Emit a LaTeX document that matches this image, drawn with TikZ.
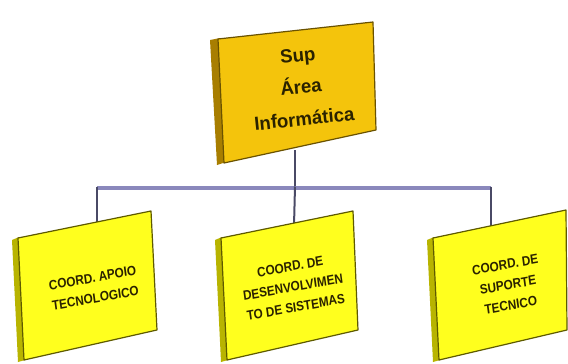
\documentclass[tikz,border=0pt]{standalone}
\usepackage{fontspec}
\setmainfont{Liberation Sans}
\begin{document}
\begin{tikzpicture}[x=1pt,y=-1pt,
  topface/.style={fill=gold, draw=edgebrown, line width=1.2pt, line join=round},
  topside/.style={fill=golddark},
  lowface/.style={fill=lowyellow, draw=edgeolive, line width=1.2pt, line join=round},
  lowside/.style={fill=lowdark},
  toptext/.style={font=\bfseries\fontsize{19}{32}\selectfont, text=txtdark, inner sep=0pt, xscale=0.98, align=center},
  lowtext/.style={font=\bfseries\fontsize{13.5}{20.5}\selectfont, text=txtdark, inner sep=0pt, xscale=0.87, align=center},
  bus/.style={draw=busblue, line width=3.5pt},
  drop/.style={draw=dropgrey, line width=2pt}]
\definecolor{gold}{HTML}{F4C40C}
\definecolor{golddark}{HTML}{A87E00}
\definecolor{edgebrown}{HTML}{6A5200}
\definecolor{lowyellow}{HTML}{FFFF1E}
\definecolor{lowdark}{HTML}{B8B400}
\definecolor{edgeolive}{HTML}{5E5A00}
\definecolor{txtdark}{HTML}{2A2200}
\definecolor{busblue}{HTML}{8A88BC}
\definecolor{dropgrey}{HTML}{4A4A66}
\useasboundingbox (0,0) rectangle (568,364);
\fill[white] (0,0) rectangle (568,364);

% connectors (drawn first, boxes cover ends)
\coordinate (topbot) at (295,150);
\coordinate (busM) at (295,188);
\coordinate (busL) at (97,188);
\coordinate (busR) at (491,188);
\coordinate (lTop) at (97,226);
\coordinate (mTop) at (294,226);
\coordinate (rTop) at (491,228);
\draw[drop] (topbot) -- (busM);
\draw[bus] (busL) -- (busR);
\draw[drop] ([yshift=1.5pt]busL) -- (lTop);
\draw[drop] ([yshift=1.5pt]busM) -- (mTop);
\draw[drop] ([yshift=1.5pt]busR) -- (rTop);

% top box
\fill[topside] (210,40) -- (220,38) -- (226,162) -- (217,165) -- cycle;
\path[topface] (218,39) -- (373,22) -- (376,130) -- (224,163) -- cycle;
\node[toptext, rotate=6] (top) at (301,87) {Sup\\Área\\Informática};

% left box
\fill[lowside] (12,240) -- (19,237) -- (25,360) -- (18,362) -- cycle;
\path[lowface] (18,238) -- (151,211) -- (157,330) -- (24,360) -- cycle;
\node[lowtext, rotate=9] (left) at (94,288) {COORD. APOIO\\TECNOLOGICO};

% middle box
\fill[lowside] (215,240) -- (222,237) -- (228,360) -- (221,362) -- cycle;
\path[lowface] (221,238) -- (353,211) -- (358,330) -- (227,360) -- cycle;
\node[lowtext, rotate=9] (mid) at (293,287) {COORD. DE\\DESENVOLVIMEN\\TO DE SISTEMAS};

% right box
\fill[lowside] (427,240) -- (434,237) -- (440,360) -- (433,362) -- cycle;
\path[lowface] (433,238) -- (566,210) -- (567,330) -- (439,360) -- cycle;
\node[lowtext, rotate=9] (right) at (508,285) {COORD. DE\\SUPORTE\\TECNICO};
\end{tikzpicture}
\end{document}
